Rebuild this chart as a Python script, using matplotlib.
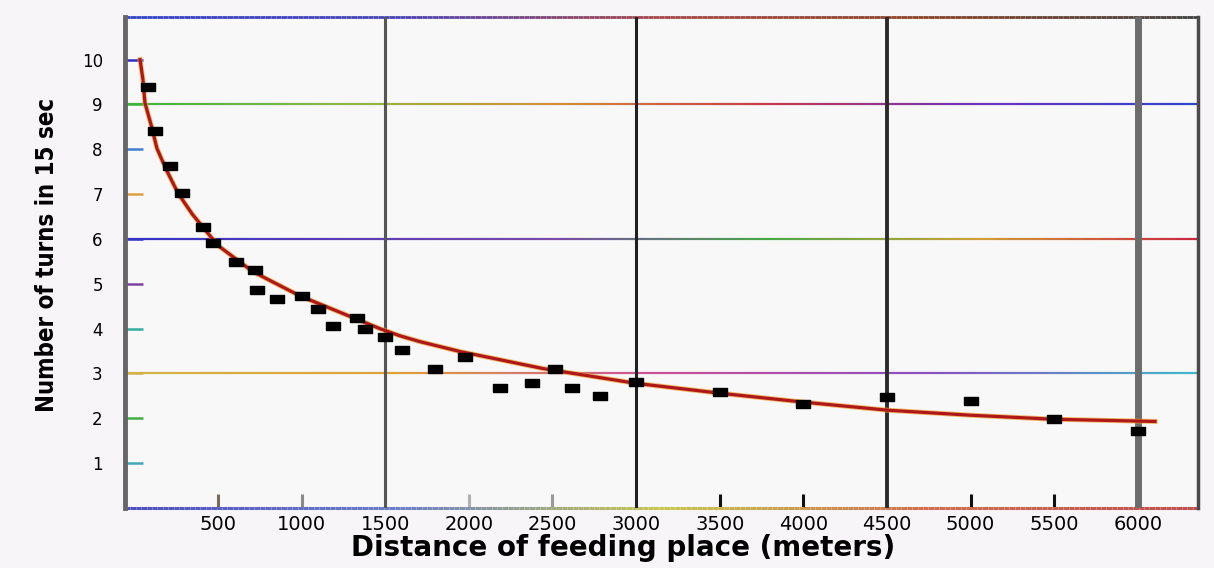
import numpy as np
import matplotlib
matplotlib.use("Agg")
import matplotlib.pyplot as plt
from matplotlib.collections import LineCollection
from matplotlib.colors import LinearSegmentedColormap

# measured points (distance in m, turns per 15 s)
dist = [81, 123, 213, 285, 410, 470, 608, 721, 733, 852, 1002, 1098, 1188,
        1331, 1379, 1500, 1600, 1797, 1977, 2186, 2377, 2515, 2617, 2784,
        3000, 3500, 4000, 4500, 5000, 5500, 6000]
turns = [9.40, 8.40, 7.62, 7.02, 6.27, 5.91, 5.49, 5.31, 4.87, 4.67, 4.73,
         4.44, 4.07, 4.24, 4.00, 3.82, 3.53, 3.09, 3.36, 2.67, 2.78, 3.09,
         2.67, 2.49, 2.80, 2.58, 2.31, 2.47, 2.38, 1.98, 1.71]

# fitted curve
curve_x = [34, 51, 63, 99, 135, 189, 261, 345, 452, 512, 709, 990, 1468,
           1588, 1708, 1947, 2443, 2999, 3501, 4004, 4507, 4996, 5493, 6103]
curve_y = [10.0, 9.56, 9.04, 8.56, 8.02, 7.56, 7.02, 6.56, 6.07, 5.82, 5.27,
           4.73, 4.00, 3.84, 3.71, 3.49, 3.11, 2.78, 2.56, 2.36, 2.18, 2.07,
           1.98, 1.93]

x_ticks = [500, 1000, 1500, 2000, 2500, 3000, 3500, 4000, 4500, 5000, 5500, 6000]
y_ticks = [1, 2, 3, 4, 5, 6, 7, 8, 9, 10]
grid_x = [1500, 3000, 4500, 6000]

fig = plt.figure(figsize=(12.14, 5.68), dpi=100, facecolor="#f7f5f7")
ax = fig.add_axes([125/1214, 60/568, 1073/1214, 491/568])
ax.set_facecolor("#f9f8f9")
ax.set_xlim(-56, 6360)
ax.set_ylim(0, 10.95)


def grad_hline(y, cols, lw=1.6):
    xs = np.linspace(-56, 6360, 200)
    segs = [[(xs[i], y), (xs[i+1], y)] for i in range(len(xs)-1)]
    cm = LinearSegmentedColormap.from_list("g", cols)
    lc = LineCollection(segs, colors=cm(np.linspace(0, 1, len(segs))),
                        linewidths=lw, zorder=2, clip_on=False)
    ax.add_collection(lc)


grad_hline(9, ["#3cb43c", "#8fb848", "#d49038", "#c83848", "#6a34c0", "#3444cc"])
grad_hline(6, ["#3434c4", "#5a3cb4", "#7a4aa8", "#48a848", "#d0a038", "#c82840"])
grad_hline(3, ["#d4b448", "#e0a038", "#c85098", "#8a50c0", "#40b8c8"])
grad_hline(10.95, ["#3444c8", "#4a44b8", "#a84848", "#8a4428", "#404040"], lw=2)
grad_hline(0, ["#5050c0", "#6a80c8", "#c8c850", "#d07050", "#c05050"], lw=2.2)

grid_cols = {1500: ("#555555", 2.2), 3000: ("#202020", 2.2),
             4500: ("#2a2a2a", 2.8), 6000: ("#6c6c6c", 5)}
for gx in grid_x:
    c, w = grid_cols[gx]
    ax.axvline(gx, color=c, lw=w, zorder=2)

# curve with orange fringe
ax.plot(curve_x, curve_y, color="#e8a030", lw=3.6, alpha=0.7, zorder=3,
        solid_joinstyle="round")
ax.plot(curve_x, curve_y, color="#b01818", lw=2.3, zorder=4,
        solid_joinstyle="round")

rect = [(-1, -0.55), (1, -0.55), (1, 0.55), (-1, 0.55), (-1, -0.55)]
ax.plot(dist, turns, ls="none", marker=rect, ms=10, color="black", zorder=5)

for s in ["top", "bottom"]:
    ax.spines[s].set_visible(False)
ax.spines["left"].set_color("#666666")
ax.spines["left"].set_linewidth(3.5)
ax.spines["right"].set_color("#4a4a4a")
ax.spines["right"].set_linewidth(2.5)

ax.set_xticks(x_ticks)
ax.set_xticklabels([str(v) for v in x_ticks], fontsize=14,
                   family="DejaVu Sans")
ax.tick_params(axis="x", direction="in", length=10, width=2.2, pad=5)
xt_cols = {500: "#7a6a5a", 1000: "#8a8a8a", 2000: "#b0b0b0",
           2500: "#9a9a9a", 3500: "#111111", 4000: "#111111",
           5000: "#111111", 5500: "#111111"}
for t, v in zip(ax.xaxis.get_major_ticks(), x_ticks):
    if v in xt_cols:
        t.tick1line.set_markeredgecolor(xt_cols[v])
    else:
        t.tick1line.set_visible(False)

ax.set_yticks(y_ticks)
ax.set_yticklabels([str(v) for v in y_ticks], fontsize=12,
                   family="DejaVu Sans")
ax.tick_params(axis="y", direction="in", length=13, width=1.8, pad=16)
yt_cols = ["#40a8b8", "#40b040", "#d4b448", "#30b0a0", "#8040a8",
           "#3434c4", "#e0a040", "#4080d0", "#3cb43c", "#3030c0"]
for t, c in zip(ax.yaxis.get_major_ticks(), yt_cols):
    t.tick1line.set_markeredgecolor(c)

xl = fig.text(623/1214, 20/568, "Distance of feeding place (meters)",
              ha="center", va="center", fontsize=20, fontweight="bold",
              family="DejaVu Sans")
yl = fig.text(47/1214, 0.551, "Number of turns in 15 sec", rotation=90,
              ha="center", va="center", fontsize=20, fontweight="bold",
              family="DejaVu Sans", fontstretch="condensed")

# fit the y label to the length it has in the picture (~315 px)
r = fig.canvas.get_renderer()
h = yl.get_window_extent(r).height
yl.set_fontsize(min(22, 20 * 315 / h))

fig.savefig("out.png", dpi=100, facecolor=fig.get_facecolor())
